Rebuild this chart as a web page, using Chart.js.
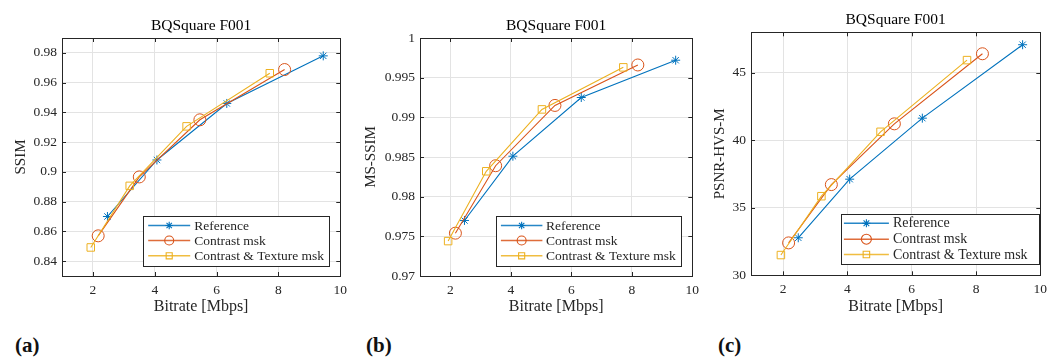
<!DOCTYPE html>
<html>
<head>
<meta charset="utf-8">
<script src="https://cdn.jsdelivr.net/npm/chart.js@4/dist/chart.umd.min.js"></script>
<style>
  body { margin: 0; background: #fff; width: 1059px; height: 363px; position: relative; overflow: hidden; }
  .panel { position: absolute; top: 0; width: 353px; height: 330px; }
  .tag { position: absolute; top: 333px; font: bold 21px 'Liberation Serif', serif; color: #111; }
</style>
</head>
<body>
<div class="panel" style="left:0"><canvas id="chartA" width="353" height="330"></canvas></div>
<div class="panel" style="left:353px"><canvas id="chartB" width="353" height="330"></canvas></div>
<div class="panel" style="left:706px"><canvas id="chartC" width="353" height="330"></canvas></div>
<div class="tag" style="left:15px">(a)</div>
<div class="tag" style="left:366px">(b)</div>
<div class="tag" style="left:718px">(c)</div>
<script>
// bitrates (Mbps)
const bitrateRef = [2.47, 4.07, 6.33, 9.45];
const bitrateCon = [2.17, 3.5, 5.46, 8.2];
const bitrateCT = [1.93, 3.19, 5.03, 7.72];

const ssimRef = [0.870, 0.908, 0.946, 0.978];
const ssimCon = [0.857, 0.8966, 0.935, 0.9688];
const ssimCT = [0.8492, 0.8906, 0.9306, 0.9663];

const msssimRef = [0.9770, 0.9851, 0.9925, 0.9972];
const msssimCon = [0.9754, 0.9839, 0.9915, 0.9966];
const msssimCT = [0.9744, 0.9832, 0.9910, 0.9963];

const psnrRef = [32.78, 37.12, 41.64, 47.08];
const psnrCon = [32.4, 36.72, 41.22, 46.41];
const psnrCT = [31.5, 35.86, 40.63, 45.94];

const seriesNames = ['Reference', 'Contrast msk', 'Contrast & Texture msk'];
const seriesColors = ['#0072BD', '#D95319', '#EDB120'];
const seriesMarkers = ['star', 'circle', 'rect'];

const xTicks = [2, 4, 6, 8, 10];
const ssimTicks = [0.84, 0.86, 0.88, 0.9, 0.92, 0.94, 0.96, 0.98];
const msssimTicks = [0.97, 0.975, 0.98, 0.985, 0.99, 0.995, 1];
const psnrTicks = [30, 35, 40, 45];

const SERIF = "'Liberation Serif', serif";
const AXIS = '#262626';

// marker drawing shared by the legend
function drawMarker(ctx, style, x, y, r, color) {
    ctx.save();
    ctx.strokeStyle = color;
    ctx.lineWidth = 1.1;
    ctx.beginPath();
    if (style === 'circle') {
        ctx.arc(x, y, r, 0, Math.PI * 2);
    } else if (style === 'rect') {
        const s = r * Math.SQRT1_2;
        ctx.rect(x - s, y - s, 2 * s, 2 * s);
    } else {
        ctx.moveTo(x - r, y); ctx.lineTo(x + r, y);
        ctx.moveTo(x, y - r); ctx.lineTo(x, y + r);
        const d = r * Math.SQRT1_2;
        ctx.moveTo(x - d, y - d); ctx.lineTo(x + d, y + d);
        ctx.moveTo(x - d, y + d); ctx.lineTo(x + d, y - d);
    }
    ctx.stroke();
    ctx.restore();
}

// box, inner ticks, title and boxed legend in the MATLAB way
const matlabFrame = {
    id: 'matlabFrame',
    afterDraw(chart, args, o) {
        const ctx = chart.ctx;
        const a = chart.chartArea;
        const xs = chart.scales.x, ys = chart.scales.y;
        ctx.save();
        ctx.strokeStyle = AXIS;
        ctx.lineWidth = 1;
        ctx.beginPath();
        xs.ticks.forEach(t => {
            const px = Math.round(xs.getPixelForValue(t.value)) + 0.5;
            ctx.moveTo(px, a.bottom); ctx.lineTo(px, a.bottom - 4);
            ctx.moveTo(px, a.top); ctx.lineTo(px, a.top + 4);
        });
        ys.ticks.forEach(t => {
            const py = Math.round(ys.getPixelForValue(t.value)) + 0.5;
            ctx.moveTo(a.left, py); ctx.lineTo(a.left + 4, py);
            ctx.moveTo(a.right, py); ctx.lineTo(a.right - 4, py);
        });
        ctx.stroke();
        ctx.strokeRect(Math.round(a.left) + 0.5, Math.round(a.top) + 0.5,
            Math.round(a.right - a.left), Math.round(a.bottom - a.top));

        // title
        ctx.fillStyle = '#000';
        ctx.font = '15.5px ' + SERIF;
        ctx.textAlign = 'center';
        ctx.textBaseline = 'middle';
        ctx.fillText(o.title, (a.left + a.right) / 2, o.titleY);

        // legend
        const L = o.legend;
        const bx = Math.round(a.right - L.gapR - L.w) + 0.5;
        const by = Math.round(a.bottom - L.gapB - L.h) + 0.5;
        ctx.fillStyle = '#fff';
        ctx.fillRect(bx, by, L.w, L.h);
        ctx.strokeStyle = AXIS;
        ctx.strokeRect(bx, by, L.w, L.h);
        ctx.font = L.font + 'px ' + SERIF;
        ctx.textAlign = 'left';
        seriesNames.forEach((name, i) => {
            const y = by + L.rows[i];
            ctx.strokeStyle = seriesColors[i];
            ctx.lineWidth = 1.4;
            ctx.globalAlpha = 0.85;
            ctx.beginPath();
            ctx.moveTo(bx + L.lineX, y);
            ctx.lineTo(bx + L.lineX + L.lineLen, y);
            ctx.stroke();
            ctx.globalAlpha = 1;
            drawMarker(ctx, seriesMarkers[i], bx + L.lineX + L.lineLen / 2, y, L.marks[i], seriesColors[i]);
            ctx.fillStyle = '#262626';
            ctx.fillText(name, bx + L.textX, y + 0.5);
        });
        ctx.restore();
    }
};

function makeChart(id, series, yTicks, yMin, yMax, yTitle, lay) {
    const bitrates = [bitrateRef, bitrateCon, bitrateCT];
    const datasets = series.map((vals, i) => ({
        label: seriesNames[i],
        data: vals.map((v, k) => ({ x: bitrates[i][k], y: v })),
        borderColor: seriesColors[i],
        backgroundColor: 'transparent',
        borderWidth: 1.1,
        pointStyle: seriesMarkers[i],
        pointRadius: [4.5, 6, 5.3][i],
        pointBorderWidth: 1,
        pointBorderColor: seriesColors[i],
        pointBackgroundColor: 'transparent',
        tension: 0,
        order: 3 - i
    }));
    return new Chart(document.getElementById(id), {
        type: 'line',
        data: { datasets },
        plugins: [matlabFrame],
        options: {
            responsive: false,
            animation: false,
            layout: { padding: { top: lay.top, right: lay.right, left: 0, bottom: 0 } },
            plugins: {
                legend: { display: false },
                tooltip: { enabled: false },
                matlabFrame: { title: 'BQSquare F001', titleY: lay.titleY, legend: lay.legend }
            },
            scales: {
                x: {
                    type: 'linear', min: 1, max: 10,
                    afterBuildTicks: s => { s.ticks = xTicks.map(v => ({ value: v })); },
                    afterFit: s => { s.height = 330 - lay.bottom; },
                    grid: { color: '#e3e3e3', drawTicks: false },
                    border: { color: AXIS },
                    ticks: { color: AXIS, padding: 6, font: { family: SERIF, size: 13.5 }, maxRotation: 0 },
                    title: { display: true, text: 'Bitrate [Mbps]', color: AXIS,
                        font: { family: SERIF, size: 16 }, padding: { top: 0, bottom: 14 } }
                },
                y: {
                    type: 'linear', min: yMin, max: yMax,
                    afterBuildTicks: s => { s.ticks = yTicks.map(v => ({ value: v })); },
                    afterFit: s => { s.width = lay.left; },
                    grid: { color: '#e3e3e3', drawTicks: false },
                    border: { color: AXIS },
                    ticks: { color: AXIS, padding: 5, font: { family: SERIF, size: 13.5 },
                        callback: v => String(+v.toFixed(4)) },
                    title: { display: true, text: yTitle, color: AXIS,
                        font: { family: SERIF, size: 15 }, padding: { top: lay.yTitlePad, bottom: 0 } }
                }
            }
        }
    });
}

makeChart('chartA', [ssimRef, ssimCon, ssimCT], ssimTicks, 0.83, 0.99, 'SSIM', {
    top: 38, right: 10, left: 62, bottom: 276, titleY: 25.7, yTitlePad: 12,
    legend: { gapR: 11, gapB: 10, w: 186, h: 50, rows: [9, 24, 39.3], lineX: 4.7, lineLen: 42, textX: 50.7, font: 13.5, marks: [3.8, 4.5, 4.3] }
});
makeChart('chartB', [msssimRef, msssimCon, msssimCT], msssimTicks, 0.97, 1, 'MS-SSIM', {
    top: 38, right: 13.7, left: 67, bottom: 276, titleY: 25.7, yTitlePad: 9,
    legend: { gapR: 11, gapB: 10, w: 185, h: 50, rows: [9, 24, 39.3], lineX: 4.4, lineLen: 41.5, textX: 49.4, font: 13.5, marks: [3.8, 4.5, 4.3] }
});
makeChart('chartC', [psnrRef, psnrCon, psnrCT], psnrTicks, 30, 48, 'PSNR-HVS-M', {
    top: 32.3, right: 18.7, left: 45, bottom: 275.3, titleY: 20, yTitlePad: 5,
    legend: { gapR: 1.6, gapB: 11, w: 198, h: 50, rows: [8.7, 24.7, 40], lineX: 2.4, lineLen: 45, textX: 51.4, font: 14, marks: [4, 5, 4.6] }
});
</script>
</body>
</html>
